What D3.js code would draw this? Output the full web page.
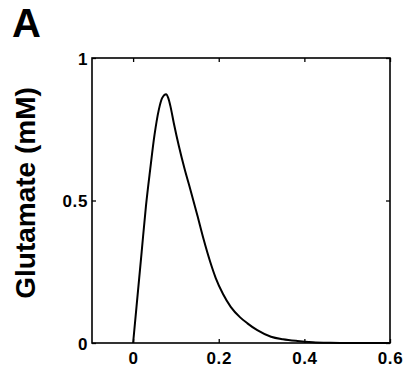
<!DOCTYPE html>
<html><head><meta charset="utf-8">
<script src="https://cdn.jsdelivr.net/npm/d3@7"></script>
<style>
html,body{margin:0;padding:0;background:#fff;}
svg text{font-family:"Liberation Sans",Arial,Helvetica,sans-serif;font-weight:bold;fill:#000;}
</style></head>
<body><svg id="c" width="405" height="371"></svg>
<script>
const timeS = [0,0.01,0.02,0.03,0.04,0.05,0.06,0.068,0.077,0.082,0.087,0.095,0.107,0.12,0.134,0.15,0.165,0.18,0.193,0.21,0.228,0.25,0.267,0.29,0.322,0.35,0.384,0.42,0.46,0.5,0.55,0.6];
const glutamate = [0,0.16,0.32,0.48,0.61,0.73,0.818,0.86,0.873,0.86,0.832,0.772,0.69,0.612,0.537,0.448,0.362,0.285,0.228,0.172,0.127,0.09,0.069,0.045,0.022,0.013,0.007,0.003,0.001,0,0,0];
const xTicks = [0,0.2,0.4,0.6];
const xTickLabels = ["0","0.2","0.4","0.6"];
const yTicks = [0,0.5,1];
const yTickLabels = ["0","0.5","1"];
const panelLabel = "A";
const yLabel = "Glutamate (mM)";

const svg = d3.select("#c");
const L=92,R=390,T=58,B=343;
const x = d3.scaleLinear().domain([-0.096,0.6]).range([L,R]);
const y = d3.scaleLinear().domain([0,1]).range([B,T]);

// curve
svg.append("path")
  .datum(timeS.map((t,i)=>[t,glutamate[i]]))
  .attr("fill","none").attr("stroke","#000").attr("stroke-width",2)
  .attr("d", d3.line().x(d=>x(d[0])).y(d=>y(d[1])).curve(d3.curveMonotoneX));

// box
svg.append("rect").attr("x",L).attr("y",T).attr("width",R-L).attr("height",B-T)
  .attr("fill","none").attr("stroke","#000").attr("stroke-width",1.6);

// axes
const fmtX = (d)=>xTickLabels[xTicks.indexOf(d)];
const fmtY = (d)=>yTickLabels[yTicks.indexOf(d)];
const gx = svg.append("g").attr("transform",`translate(0,${B})`)
  .call(d3.axisBottom(x).tickValues(xTicks).tickFormat(fmtX).tickSizeInner(-4).tickSizeOuter(0).tickPadding(9));
const gxt = svg.append("g").attr("transform",`translate(0,${T})`)
  .call(d3.axisTop(x).tickValues(xTicks).tickFormat("").tickSizeInner(-4).tickSizeOuter(0));
const gy = svg.append("g").attr("transform",`translate(${L},0)`)
  .call(d3.axisLeft(y).tickValues(yTicks).tickFormat(fmtY).tickSizeInner(-4).tickSizeOuter(0).tickPadding(4));
const gyr = svg.append("g").attr("transform",`translate(${R},0)`)
  .call(d3.axisRight(y).tickValues(yTicks).tickFormat("").tickSizeInner(-4).tickSizeOuter(0));
[gx,gxt,gy,gyr].forEach(g=>{
  g.select(".domain").remove();
  g.selectAll("line").attr("stroke","#000").attr("stroke-width",1.3);
  g.selectAll("text").style("font-size","17px").style("font-family","'Liberation Sans',Arial,sans-serif").style("font-weight","bold").style("letter-spacing","0.6px").attr("fill","#000");
});
gx.selectAll("text").attr("dy","0.71em");
gy.selectAll("text").attr("dy","0.38em");

// y label
svg.append("text").attr("transform","translate(35,193) rotate(-90)")
  .attr("text-anchor","middle").style("font-size","28px").text(yLabel);

// panel label
svg.append("text").attr("x",12).attr("y",37).style("font-size","40px").text(panelLabel);
</script></body></html>
